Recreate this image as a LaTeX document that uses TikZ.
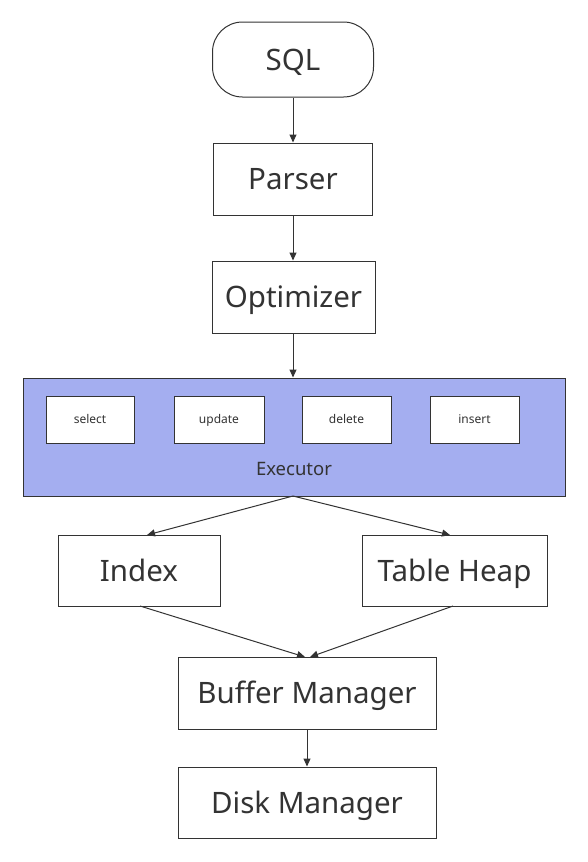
\documentclass[tikz,border=0pt]{standalone}
\usepackage{fontspec}
\setmainfont{Noto Sans}
\usetikzlibrary{arrows.meta}
\definecolor{linec}{HTML}{333333}
\definecolor{execfill}{HTML}{A4AEF0}
\begin{document}
\begin{tikzpicture}[x=1pt,y=-1pt,
  box/.style={draw=linec,line width=1pt,fill=white,inner sep=0pt},
  bigtext/.style={font=\fontsize{29.5}{34}\selectfont,text=linec,text height=21pt,text depth=0pt},
  smalltext/.style={font=\fontsize{12}{14}\selectfont,text=linec,text height=8.5pt,text depth=0pt},
  arr/.style={draw=linec,line width=1pt,-{Triangle[length=8pt,width=7pt]}}]
\useasboundingbox (0,0) rectangle (588,862);
% nodes
\node[box,rounded corners=30pt,minimum width=161pt,minimum height=75pt,bigtext] (sql) at (293,59.5) {SQL};
\node[box,minimum width=159pt,minimum height=72pt,bigtext] (parser) at (293,179) {Parser};
\node[box,minimum width=163pt,minimum height=72pt,bigtext] (opt) at (293.5,297) {Optimizer};
\node[draw=linec,line width=1pt,fill=execfill,minimum width=542pt,minimum height=118pt,inner sep=0pt] (exec) at (294,437) {};
\node[font=\fontsize{18.5}{22}\selectfont,text=linec] (execlabel) at (294,469) {Executor};
\node[box,minimum width=88pt,minimum height=47pt,smalltext] (select) at (90,419.5) {select};
\node[box,minimum width=90pt,minimum height=47pt,smalltext] (update) at (219,419.5) {update};
\node[box,minimum width=89pt,minimum height=47pt,smalltext] (delete) at (346.5,419.5) {delete};
\node[box,minimum width=89pt,minimum height=47pt,smalltext] (insert) at (474.5,419.5) {insert};
\node[box,minimum width=162pt,minimum height=71pt,bigtext] (index) at (139,570.5) {Index};
\node[box,minimum width=185pt,minimum height=71pt,bigtext] (heap) at (454.5,570.5) {Table Heap};
\node[box,minimum width=258pt,minimum height=72pt,bigtext] (buffer) at (307,693) {Buffer Manager};
\node[box,minimum width=258pt,minimum height=71pt,bigtext] (disk) at (307,802.5) {Disk Manager};
% connectors
\coordinate (execb) at (293,496);
\coordinate (indext) at (147,535);
\coordinate (heapt) at (450,535);
\coordinate (indexb) at (140,606);
\coordinate (heapb) at (453,606);
\coordinate (buft1) at (305,657);
\coordinate (buft2) at (310,657);
\draw[arr] (sql.south) -- (parser.north);
\draw[arr] (parser.south) -- (parser.south |- opt.north);
\draw[arr] (parser.south |- opt.south) -- (parser.south |- exec.north);
\draw[arr] (execb) -- (indext);
\draw[arr] (execb) -- (heapt);
\draw[arr] (indexb) -- (buft1);
\draw[arr] (heapb) -- (buft2);
\draw[arr] (buffer.south) -- (disk.north);
\end{tikzpicture}
\end{document}
